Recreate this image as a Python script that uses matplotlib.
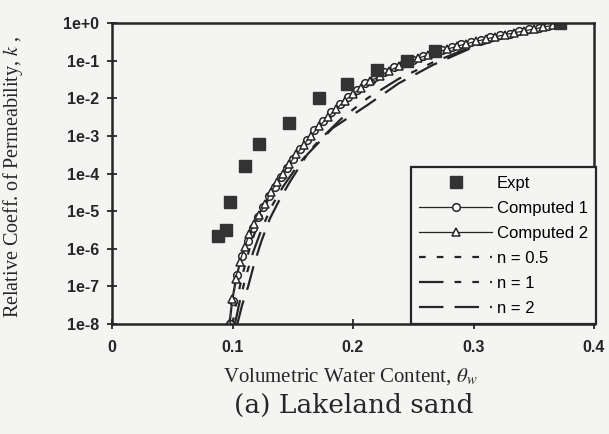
import matplotlib
matplotlib.use("Agg")
import matplotlib.pyplot as plt
from matplotlib.lines import Line2D

expt_theta = [0.088, 0.0946, 0.098, 0.110, 0.122, 0.147, 0.172, 0.195, 0.220, 0.245, 0.268, 0.372]
expt_kr = [2.2e-6, 3.1e-6, 1.7e-5, 1.6e-4, 6.0e-4, 2.2e-3, 1.0e-2, 2.4e-2, 5.6e-2, 0.10, 0.18, 1.0]

comp1_theta = [0.098, 0.100, 0.104, 0.108, 0.113, 0.117, 0.121, 0.125, 0.130, 0.135,
               0.140, 0.145, 0.150, 0.156, 0.162, 0.168, 0.175, 0.182, 0.189, 0.196,
               0.203, 0.210, 0.218, 0.226, 0.234, 0.242, 0.250, 0.258, 0.266, 0.274,
               0.282, 0.290, 0.298, 0.306, 0.314, 0.322, 0.330, 0.338, 0.346, 0.354,
               0.362, 0.370]
comp1_kr = [1.0e-8, 4.0e-8, 2.0e-7, 6.3e-7, 1.6e-6, 3.5e-6, 7.1e-6, 1.3e-5, 2.5e-5, 4.5e-5,
            7.9e-5, 1.4e-4, 2.5e-4, 4.5e-4, 7.9e-4, 1.4e-3, 2.5e-3, 4.2e-3, 7.1e-3, 1.1e-2,
            1.7e-2, 2.5e-2, 3.6e-2, 5.0e-2, 6.6e-2, 8.5e-2, 0.107, 0.132, 0.162, 0.195,
            0.234, 0.275, 0.316, 0.363, 0.417, 0.468, 0.525, 0.603, 0.676, 0.759,
            0.851, 0.955]

comp2_theta = [0.097, 0.0995, 0.1025, 0.106, 0.110, 0.114, 0.118, 0.122, 0.127, 0.132,
               0.137, 0.142, 0.147, 0.153, 0.159, 0.165, 0.172, 0.179, 0.186, 0.193,
               0.200, 0.207, 0.214, 0.222, 0.230, 0.238, 0.246, 0.254, 0.262, 0.270,
               0.278, 0.286, 0.294, 0.302, 0.310, 0.318, 0.326, 0.334, 0.342, 0.350,
               0.358, 0.366, 0.372]
comp2_kr = [1.0e-8, 4.5e-8, 1.6e-7, 4.5e-7, 1.1e-6, 2.4e-6, 4.5e-6, 8.0e-6, 1.5e-5, 3.3e-5,
            5.8e-5, 1.0e-4, 1.8e-4, 3.2e-4, 5.8e-4, 1.0e-3, 1.8e-3, 3.1e-3, 5.2e-3, 8.5e-3,
            1.3e-2, 1.9e-2, 2.8e-2, 3.9e-2, 5.4e-2, 7.1e-2, 9.1e-2, 0.115, 0.141, 0.170,
            0.200, 0.240, 0.282, 0.324, 0.372, 0.427, 0.490, 0.550, 0.617, 0.692,
            0.776, 0.871, 0.98]

n05_theta = [0.100, 0.104, 0.109, 0.115, 0.122, 0.130, 0.140, 0.152, 0.166, 0.183, 0.203, 0.228, 0.258, 0.290, 0.330, 0.372]
n05_kr = [1.0e-8, 5.0e-8, 2.5e-7, 1.26e-6, 5.6e-6, 2.2e-5, 7.9e-5, 2.8e-4, 1.0e-3, 3.5e-3, 1.26e-2, 4.2e-2, 0.112, 0.251, 0.525, 1.0]

n1_theta = [0.102, 0.106, 0.111, 0.117, 0.124, 0.132, 0.142, 0.155, 0.171, 0.190, 0.212, 0.238, 0.266, 0.297, 0.330, 0.372]
n1_kr = [1.0e-8, 4.0e-8, 1.8e-7, 7.9e-7, 3.2e-6, 1.26e-5, 4.5e-5, 1.8e-4, 7.1e-4, 2.8e-3, 1.0e-2, 3.3e-2, 8.9e-2, 0.224, 0.49, 1.0]

n2_theta = [0.104, 0.108, 0.113, 0.118, 0.124, 0.131, 0.139, 0.148, 0.162, 0.183, 0.212, 0.238, 0.266, 0.297, 0.330, 0.372]
n2_kr = [1.0e-8, 3.2e-8, 1.0e-7, 4.0e-7, 1.6e-6, 6.3e-6, 2.0e-5, 6.3e-5, 3.2e-4, 1.6e-3, 6.6e-3, 2.5e-2, 7.6e-2, 0.209, 0.468, 1.0]

y_ticks = [1e0, 1e-1, 1e-2, 1e-3, 1e-4, 1e-5, 1e-6, 1e-7, 1e-8]
y_tick_labels = ["1e+0", "1e-1", "1e-2", "1e-3", "1e-4", "1e-5", "1e-6", "1e-7", "1e-8"]
x_ticks = [0, 0.1, 0.2, 0.3, 0.4]
x_tick_labels = ["0", "0.1", "0.2", "0.3", "0.4"]

BG = "#f4f4f2"
INK = "#262626"

plt.rcParams["mathtext.fontset"] = "stix"

fig = plt.figure(figsize=(6.09, 4.34), dpi=100, facecolor=BG)
ax = fig.add_axes([112 / 609, 110 / 434, 482 / 609, 301 / 434], facecolor=BG)

ax.plot(n05_theta, n05_kr, color=INK, lw=1.6, dashes=(3.0, 5.0), label="n = 0.5")
ax.plot(n1_theta, n1_kr, color=INK, lw=1.6, dashes=(11, 5, 3, 5, 3, 5), label="n = 1")
ax.plot(n2_theta, n2_kr, color=INK, lw=1.6, dashes=(11, 5), label="n = 2")
ax.plot(comp1_theta, comp1_kr, color=INK, lw=0.9, marker="o", ms=5.5, mfc="white",
        mec=INK, mew=1.1, label="Computed 1")
ax.plot(comp2_theta, comp2_kr, color=INK, lw=0.9, marker="^", ms=5.5, mfc="white",
        mec=INK, mew=1.1, label="Computed 2")
ax.plot(expt_theta, expt_kr, ls="none", marker="s", ms=8, color="#333333", label="Expt")

ax.set_yscale("log")
ax.set_xlim(0, 0.4)
ax.set_ylim(1e-8, 1e0)
ax.set_yticks(y_ticks)
ax.set_yticklabels(y_tick_labels)
ax.minorticks_off()
ax.set_xticks(x_ticks)
ax.set_xticklabels(x_tick_labels)

for lab in ax.get_xticklabels() + ax.get_yticklabels():
    lab.set_fontfamily("Liberation Sans")
    lab.set_fontweight("bold")
    lab.set_fontsize(11.5)
    lab.set_color(INK)

ax.tick_params(axis="both", direction="inout", length=7, width=1.3, color=INK)
ax.tick_params(axis="y", pad=6)
ax.tick_params(axis="x", pad=8)
for sp in ax.spines.values():
    sp.set_linewidth(1.8)
    sp.set_color(INK)

ax.set_ylabel("Relative Coeff. of Permeability, $k$ ,", family="Liberation Serif",
              fontsize=14.5, color=INK)
ax.yaxis.set_label_coords(-0.18, 0.49)
ax.set_xlabel(r"Volumetric Water Content, $\theta_w$", family="Liberation Serif",
              fontsize=15, color=INK)
ax.xaxis.set_label_coords(0.494, -0.14)
fig.text(354 / 609, 1 - 405 / 434, "(a) Lakeland sand", family="DejaVu Serif",
         fontsize=19, color=INK, ha="center", va="center")

handles = [
    Line2D([], [], ls="none", marker="s", ms=8, color="#333333"),
    Line2D([], [], color=INK, lw=0.9, marker="o", ms=5.5, mfc="white", mec=INK, mew=1.1),
    Line2D([], [], color=INK, lw=0.9, marker="^", ms=5.5, mfc="white", mec=INK, mew=1.1),
    Line2D([], [], color=INK, lw=1.6, dashes=(3.0, 5.0)),
    Line2D([], [], color=INK, lw=1.6, dashes=(11, 5, 3, 5, 3, 5)),
    Line2D([], [], color=INK, lw=1.6, dashes=(11, 5)),
]
labels = ["Expt", "Computed 1", "Computed 2", "n = 0.5", "n = 1", "n = 2"]
leg = ax.legend(handles, labels, loc="lower right",
                bbox_to_anchor=(596 / 609, 110 / 434), bbox_transform=fig.transFigure,
                borderaxespad=0, prop={"family": "Liberation Sans", "size": 12},
                handlelength=4.4, handletextpad=0.25, labelspacing=0.6, borderpad=0.5,
                fancybox=False, framealpha=1, facecolor=BG, edgecolor=INK, numpoints=1)
leg.get_frame().set_linewidth(1.6)

fig.savefig("out.png", dpi=100, facecolor=BG)
